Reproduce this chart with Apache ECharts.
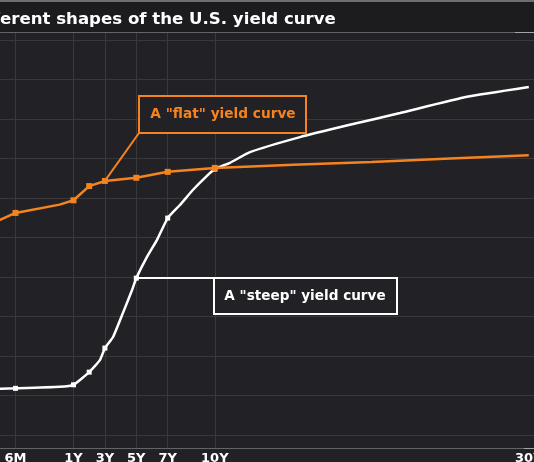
<!DOCTYPE html>
<html><head><meta charset="utf-8">
<script src="https://cdn.jsdelivr.net/npm/echarts@6/dist/echarts.min.js"></script>
<style>html,body{margin:0;padding:0;background:#222125;overflow:hidden}#c{width:534px;height:462px;}</style>
</head><body><div id="c"></div>
<script>
// ---- data ----
const titleText = 'Different shapes of the U.S. yield curve';
const axisTickLabels = ['6M','1Y','3Y','5Y','7Y','10Y','30Y'];
const axisTickYears  = [0.5,1,3,5,7,10,30];
const gridLineYears  = [0.5,1,3,5,7,10];
const yGridValues = [0,1,2,3,4,5,6,7,8,9,10];

// "flat" curve: maturity (years) and yield
const flatYears  = [0.25,0.5,0.88,1,2,3,5,7,10,15,20,25,30];
const flatYields = [5.29,5.62,5.83,5.94,6.30,6.43,6.51,6.66,6.76,6.84,6.91,7.00,7.08];
// "steep" curve
const steepYears  = [0.25,0.5,0.88,1,2,2.69,3,3.52,4.15,4.73,5,5.68,6.32,7,7.78,8.6,9.5,10,10.97,12.24,15.43,18.6,21.8,26.06,30];
const steepYields = [1.16,1.18,1.22,1.27,1.59,1.90,2.20,2.48,3.09,3.67,3.97,4.51,4.94,5.49,5.82,6.20,6.56,6.73,6.89,7.16,7.54,7.85,8.15,8.56,8.81];
// maturities that carry a square marker
const markerYears = [0.5,1,2,3,5,7,10];

const flatNote = 'A "flat" yield curve';
const steepNote = 'A "steep" yield curve';
const flatAnchorYear = 3;
const steepAnchorYear = 5;

// broken time scale: short end (<1Y) is stretched
function axisPos(years){ return years >= 1 ? years : 1 - (1 - years) * 7.39; }

const BG = '#222125', GRID = '#39383c', AXIS = '#646368';
const ORANGE = '#f5841f', WHITE = '#ffffff';
const FONT = '"DejaVu Sans", Verdana, sans-serif';

function buildData(years, vals){
  return years.map((t,i)=>({
    value:[axisPos(t), vals[i]],
    symbol: markerYears.includes(t) ? 'rect' : 'none'
  }));
}
function yieldAt(years, vals, t){ return vals[years.indexOf(t)]; }

const chart = echarts.init(document.getElementById('c'), null, {renderer:'canvas'});
const labelPos = axisTickYears.map(axisPos);
const option = {
  backgroundColor: BG,
  animation: false,
  grid: {left:0, right:0, top:32, bottom:14, containLabel:false, outerBoundsMode:'none'},
  xAxis: {
    type:'value', min: 1 - 73.5/15.7, max: 1 + (534-73.5)/15.7,
    axisLine:{show:true, onZero:false, lineStyle:{color:AXIS, width:1}},
    axisTick:{show:false, customValues: gridLineYears.map(axisPos)},
    axisLabel:{show:true, customValues: labelPos, color:'#ffffff', fontFamily:FONT,
      fontWeight:'bold', fontSize:13, margin:4, hideOverlap:false,
      formatter:(v)=>{ const i = labelPos.findIndex(p=>Math.abs(p-v)<1e-6); return i>=0?axisTickLabels[i]:''; }},
    splitLine:{show:true, lineStyle:{color:GRID, width:1}}
  },
  yAxis: {
    type:'value', min:-0.33, max:10.2,
    axisLine:{show:false},
    axisTick:{show:false, customValues:yGridValues},
    axisLabel:{show:false, customValues:yGridValues},
    splitLine:{show:true, lineStyle:{color:GRID, width:1}}
  },
  series: [
    {name:'steep', type:'line', data: buildData(steepYears, steepYields), smooth:0.15,
      symbolSize:5, lineStyle:{color:WHITE, width:2.5}, itemStyle:{color:WHITE}, z:3},
    {name:'flat', type:'line', data: buildData(flatYears, flatYields),
      symbolSize:6, lineStyle:{color:ORANGE, width:2.5}, itemStyle:{color:ORANGE}, z:4}
  ]
};
chart.setOption(option);

const cv = document.createElement('canvas').getContext('2d');
const TITLE_FONT = 'bold 16.6px ' + FONT;
cv.font = TITLE_FONT;
const hiddenW = cv.measureText('Diff').width;

const fa = chart.convertToPixel({gridIndex:0}, [axisPos(flatAnchorYear), yieldAt(flatYears, flatYields, flatAnchorYear)]);
const sa = chart.convertToPixel({gridIndex:0}, [axisPos(steepAnchorYear), yieldAt(steepYears, steepYields, steepAnchorYear)]);

chart.setOption({
  graphic: [
    {type:'rect', z:50, shape:{x:0,y:0,width:534,height:32}, style:{fill:'#1c1b1e'}},
    {type:'line', z:51, shape:{x1:0,y1:1,x2:534,y2:1}, style:{stroke:'#6e6e72', lineWidth:2}},
    {type:'line', z:51, shape:{x1:0,y1:32.5,x2:534,y2:32.5}, style:{stroke:AXIS, lineWidth:1}},
    {type:'line', z:51, shape:{x1:515,y1:32.5,x2:534,y2:32.5}, style:{stroke:'#a5a5a8', lineWidth:1}},
    {type:'line', z:51, shape:{x1:524,y1:448.5,x2:534,y2:448.5}, style:{stroke:'#a5a5a8', lineWidth:1}},
    {type:'text', z:52, x:-hiddenW, y:20, style:{text:titleText, font:TITLE_FONT, fill:'#ffffff', textVerticalAlign:'middle'}},
    // flat annotation
    {type:'line', z:60, shape:{x1:139,y1:133,x2:fa[0],y2:fa[1]}, style:{stroke:ORANGE, lineWidth:2}},
    {type:'rect', z:61, shape:{x:139,y:96,width:167,height:37}, style:{fill:BG, stroke:ORANGE, lineWidth:2}},
    {type:'text', z:62, x:223, y:114, style:{text:flatNote, font:'bold 13.7px '+FONT, fill:ORANGE, textAlign:'center', textVerticalAlign:'middle'}},
    // steep annotation
    {type:'line', z:60, shape:{x1:sa[0],y1:278,x2:214,y2:278}, style:{stroke:WHITE, lineWidth:2}},
    {type:'rect', z:61, shape:{x:214,y:278,width:183,height:36}, style:{fill:BG, stroke:WHITE, lineWidth:2}},
    {type:'text', z:62, x:305, y:296, style:{text:steepNote, font:'bold 13.6px '+FONT, fill:WHITE, textAlign:'center', textVerticalAlign:'middle'}}
  ]
});
</script></body></html>
